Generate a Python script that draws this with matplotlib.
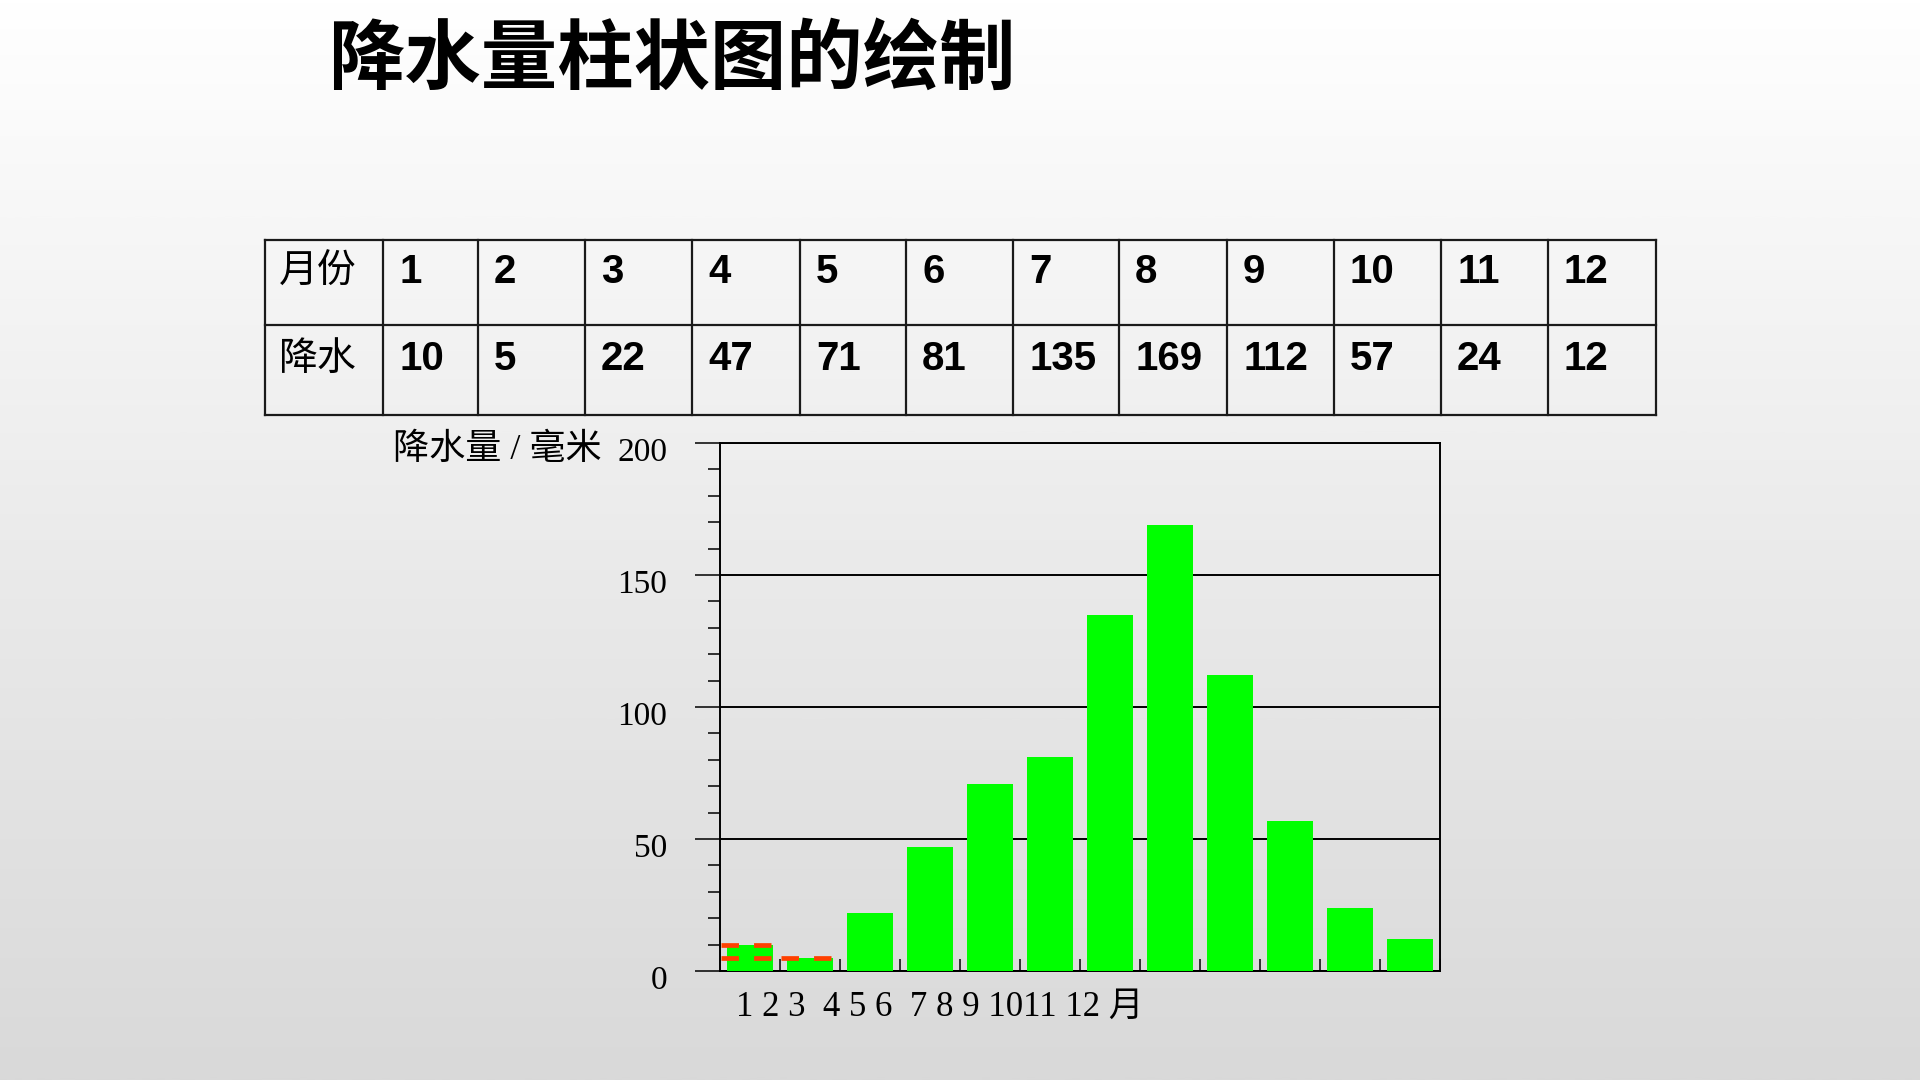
import numpy as np
import matplotlib
matplotlib.use("Agg")
import matplotlib.pyplot as plt
from matplotlib.colors import LinearSegmentedColormap
from matplotlib.ticker import MultipleLocator
from matplotlib.transforms import ScaledTranslation

# ---------------- data ----------------
title = "降水量柱状图的绘制"
row_headers = ["月份", "降水"]
months = [1, 2, 3, 4, 5, 6, 7, 8, 9, 10, 11, 12]
precip = [10, 5, 22, 47, 71, 81, 135, 169, 112, 57, 24, 12]
y_label = "降水量 / 毫米"
y_major = [0, 50, 100, 150, 200]
x_tick_text = "1 2 3  4 5 6  7 8 9 1011 12 月"
# red dashed guide lines: (bar index, value taken from the precipitation list)
guides = [(0, precip[0]), (0, precip[1]), (1, precip[1])]

# ---------------- layout ----------------
W, H = 1920, 1080
fig = plt.figure(figsize=(19.2, 10.8), dpi=100)

bg = fig.add_axes([0, 0, 1, 1], zorder=0)
bg.set_xlim(0, W)
bg.set_ylim(H, 0)
bg.axis("off")
grad = np.linspace(0, 1, 512)[:, None]
cmap = LinearSegmentedColormap.from_list("bg", ["#ffffff", "#ebebeb", "#d9d9d9"])
bg.imshow(grad, extent=[0, W, H, 0], cmap=cmap, aspect="auto", vmin=0, vmax=1, zorder=0)

# title
bg.text(328, 83, title, fontsize=55, fontweight="heavy", family=["Noto Sans CJK SC"],
        ha="left", va="baseline", color="black", zorder=2)

# table
col_edges = [264.5, 383, 477.5, 585, 692, 800, 906, 1013, 1119, 1227, 1333.5, 1441, 1548, 1655.5]
row_edges = [240, 324.5, 415]
row_base = [283, 370]
line_kw = dict(color="#1a1a1a", lw=1.6, zorder=2, solid_capstyle="projecting")
for x in col_edges:
    bg.plot([x, x], [row_edges[0], row_edges[-1]], **line_kw)
for y in row_edges:
    bg.plot([col_edges[0], col_edges[-1]], [y, y], **line_kw)
for r, head in enumerate(row_headers):
    bg.text(col_edges[0] + 14, row_base[r], head, fontsize=28, fontweight="medium",
            family=["Noto Sans CJK SC"], ha="left", va="baseline", zorder=3)
for i, (m, p) in enumerate(zip(months, precip)):
    for r, val in enumerate([m, p]):
        bg.text(col_edges[i + 1] + 16, row_base[r], str(val), fontsize=29, fontweight="bold",
                family=["Liberation Sans", "DejaVu Sans"], ha="left", va="baseline", zorder=3)

# y label and x labels text
serif = ["Liberation Serif", "Noto Sans CJK SC"]
bg.text(602, 459, y_label, fontsize=26, family=serif, ha="right", va="baseline", zorder=3)
bg.text(736, 1016, x_tick_text, fontsize=25, family=serif, ha="left", va="baseline", zorder=3)

# ---------------- chart ----------------
ax = fig.add_axes([720 / W, (H - 971) / H, 720 / W, 528 / H], zorder=1)
ax.set_facecolor("none")
ax.set_xlim(0, 12)
ax.set_ylim(0, 200)
ax.set_axisbelow(True)

x = np.arange(len(precip)) + 0.5
ax.bar(x, precip, width=0.77, color="#00ff00", zorder=3)

for idx, val in guides:
    ax.hlines(val, idx + 0.01, idx + 0.85, colors="#ff4000", lw=3.4,
              linestyles=[(0, (3.7, 3.2))], zorder=4)

ax.set_yticks(y_major)
ax.set_yticklabels([str(v) for v in y_major])
ax.yaxis.set_minor_locator(MultipleLocator(10))
ax.set_xticks(range(1, 13))
ax.tick_params(axis="x", direction="in", length=8.6, width=1.1, labelbottom=False)
ax.tick_params(axis="y", which="major", direction="out", length=18, width=1.1, pad=20,
               labelsize=24)
ax.tick_params(axis="y", which="minor", direction="out", length=8.6, width=1.1)
off = ScaledTranslation(0, -0.06, fig.dpi_scale_trans)
for lab in ax.get_yticklabels():
    lab.set_fontfamily("Liberation Serif")
    lab.set_transform(lab.get_transform() + off)

ax.yaxis.grid(True, which="major", color="black", lw=1.4)
for s in ax.spines.values():
    s.set_linewidth(1.4)
    s.set_color("black")

fig.savefig("out.png", dpi=100)
